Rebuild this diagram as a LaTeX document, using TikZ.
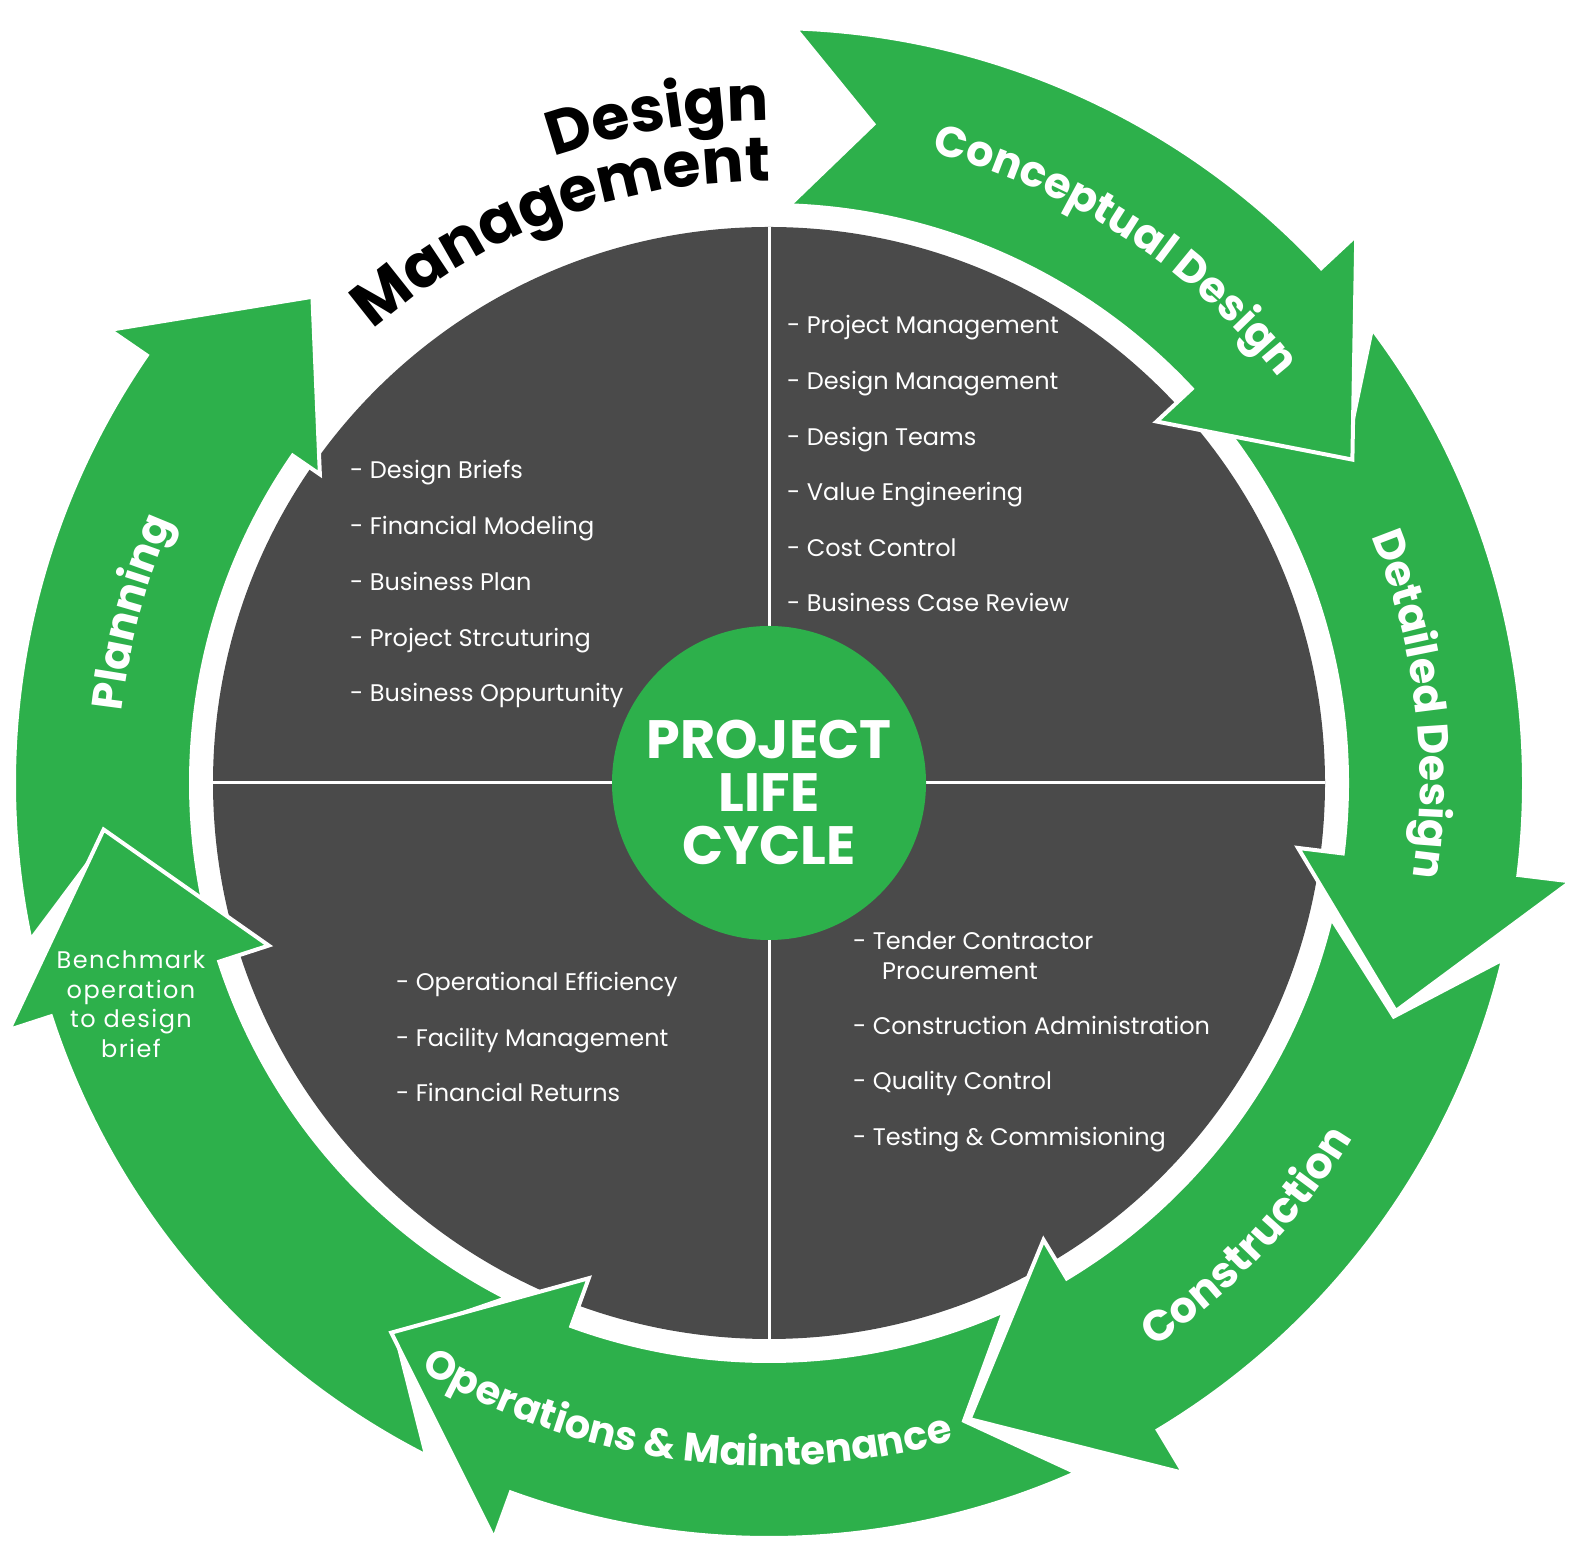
\documentclass[tikz,border=0pt]{standalone}
\usepackage{fontspec}
\setmainfont{Poppins}
\usetikzlibrary{decorations.text}
\definecolor{ringgreen}{HTML}{2DB04B}
\definecolor{disc}{HTML}{4A4A4A}
\newcommand\ringarrow[5]{%
  \fill[ringgreen, draw=white, line width=4pt, line join=miter]
    (#1:755pt) arc[start angle=#1, end angle=#2, radius=755pt]
    -- (#2:#5pt) -- (#3:667pt) -- (#2:#4pt) -- (#2:578pt)
    arc[start angle=#2, end angle=#1, radius=578pt]
    -- ({#1-7}:667pt) -- cycle;}
\tikzset{
  itemw/.style={anchor=base west, text=white, font=\fontsize{24}{24}\selectfont, inner sep=0pt}}
\begin{document}
\begin{tikzpicture}[x=1pt,y=1pt]
\useasboundingbox (0,0) rectangle (1568,1568);
\node[circle, fill=disc, minimum size=1112pt, inner sep=0pt] (discnode) at (769,785) {};
\draw[white, line width=3pt] (discnode.north) -- (discnode.south);
\draw[white, line width=3pt] (discnode.west) -- (discnode.east);
\node[circle, fill=ringgreen, minimum size=314pt, inner sep=0pt] (hub) at (769,785) {};
\node[text=white, align=center, font=\bfseries\fontsize{54}{53}\selectfont] (hubtext) at (769,776) {PROJECT\\LIFE\\CYCLE};
\begin{scope}[shift={(769,785)}]
\ringarrow{-168}{-214.5}{-226.8}{545}{800}
\ringarrow{-117}{-162}{-176}{526}{799}
\ringarrow{-66}{-110}{-124.5}{527}{804}
\ringarrow{-13.5}{-59}{-72.5}{533}{805}
\ringarrow{37}{-7}{-20}{533}{808}
\ringarrow{88}{43}{29}{530}{803}
\path[decorate, decoration={text along path, text align=center,
  text={|\color{white}\bfseries\fontsize{43}{43}\selectfont|Conceptual Design}}]
  (86:651pt) arc[start angle=86, end angle=28, radius=651pt];
\path[decorate, decoration={text along path, text align=center,
  text={|\color{white}\bfseries\fontsize{43}{43}\selectfont|Detailed Design}}]
  (36:651pt) arc[start angle=36, end angle=-22, radius=651pt];
\path[decorate, decoration={text along path, text align=center,
  text={|\color{white}\bfseries\fontsize{43}{43}\selectfont|Construction}}]
  (-72:683pt) arc[start angle=-72, end angle=-15, radius=683pt];
\path[decorate, decoration={text along path, text align=center,
  text={|\color{white}\bfseries\fontsize{40}{40}\selectfont|Operations {\&} Maintenance}}]
  (-130:683pt) arc[start angle=-130, end angle=-65, radius=683pt];
\path[decorate, decoration={text along path, text align=center,
  text={|\color{white}\bfseries\fontsize{43}{43}\selectfont|Planning}}]
  (190:651pt) arc[start angle=190, end angle=140, radius=651pt];
\path[decorate, decoration={text along path, text align=center,
  text={|\color{black}\bfseries\fontsize{62}{62}\selectfont|Design}}]
  (123:662pt) arc[start angle=123, end angle=76, radius=662pt];
\path[decorate, decoration={text along path, text align=center,
  text={|\color{black}\bfseries\fontsize{62}{62}\selectfont|Management}}]
  (140:602pt) arc[start angle=140, end angle=81, radius=602pt];
\end{scope}
\foreach \t [count=\i] in {Design Briefs, Financial Modeling, Business Plan, Project Strcuturing, Business Oppurtunity}
  \node[itemw] (tl\i) at (350,{1089-55.7*(\i-1)}) {- \t};
\foreach \t [count=\i] in {Project Management, Design Management, Design Teams, Value Engineering, Cost Control, Business Case Review}
  \node[itemw] (tr\i) at (787,{1234-55.6*(\i-1)}) {- \t};
\foreach \t [count=\i] in {Operational Efficiency, Facility Management, Financial Returns}
  \node[itemw] (bl\i) at (396,{577-55.5*(\i-1)}) {- \t};
\node[itemw] (br1) at (853,618) {- Tender Contractor};
\node[itemw] (br1b) at (882,588) {Procurement};
\node[itemw] (br2) at (853,533) {- Construction Administration};
\node[itemw] (br3) at (853,478) {- Quality Control};
\node[itemw] (br4) at (853,422) {- Testing \& Commisioning};
\node[text=white, align=center, font=\fontsize{24}{29.5}\selectfont\addfontfeature{LetterSpace=6}] (bench) at (131,564) {Benchmark\\operation\\to design\\brief};
\end{tikzpicture}
\end{document}
